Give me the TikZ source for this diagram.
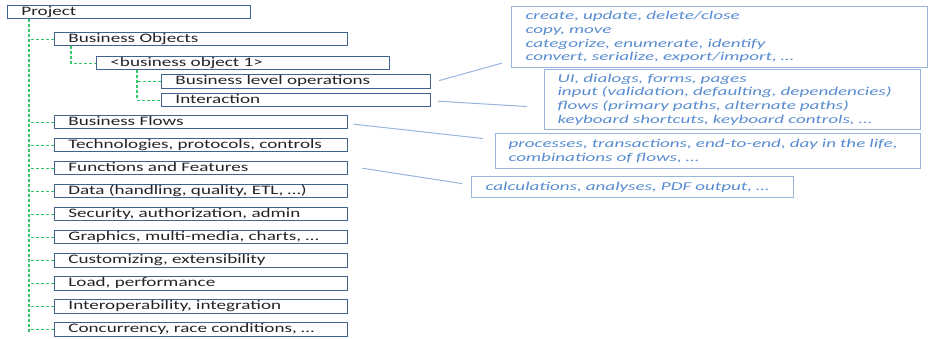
\documentclass[tikz,border=0pt]{standalone}
\usepackage{fontspec}
\setmainfont{Carlito}[FakeStretch=1.47]
\newfontfamily\notefont{Carlito}[FakeStretch=1.59]
\usetikzlibrary{calc}
\definecolor{treeline}{RGB}{50,200,105}
\definecolor{boxline}{RGB}{65,100,143}
\definecolor{notecol}{RGB}{88,140,208}
\definecolor{noteline}{RGB}{150,182,220}
\definecolor{txt}{RGB}{35,35,35}
\tikzset{
  tbox/.style={draw=boxline, line width=0.9pt, anchor=north west, inner xsep=14pt, inner ysep=0pt,
    minimum height=13.5pt, text height=9pt, text depth=3pt, align=left, text=txt,
    font=\fontsize{13}{14}\selectfont},
  nbox/.style={draw=noteline, line width=1.1pt, anchor=north west, inner xsep=14pt, inner ysep=0pt,
    align=left, text=notecol, font=\notefont\fontsize{12}{13.7}\itshape\selectfont},
  tree/.style={draw=treeline, line width=1.2pt, dash pattern=on 3pt off 2pt},
  nline/.style={draw=noteline, line width=1pt}
}
\begin{document}
\begin{tikzpicture}[x=1pt,y=-1pt]
\useasboundingbox (0,0) rectangle (929,339);
% tree boxes
\node[tbox, minimum width=243pt, text width=215pt] (proj) at (7,5) {Project};
\node[tbox, minimum width=293pt, text width=265pt] (bo) at (54,32) {Business Objects};
\node[tbox, minimum width=293pt, text width=265pt] (bo1) at (96,56) {<business object 1>};
\node[tbox, minimum width=269pt, text width=241pt] (blo) at (161,74.5) {Business level operations};
\node[tbox, minimum width=269pt, text width=241pt] (inter) at (161,93) {Interaction};
\node[tbox, minimum width=293pt, text width=265pt] (bf) at (54,115) {Business Flows};
\node[tbox, minimum width=293pt, text width=265pt] (tech) at (54,138) {Technologies, protocols, controls};
\node[tbox, minimum width=293pt, text width=265pt] (func) at (54,161) {Functions and Features};
\node[tbox, minimum width=293pt, text width=265pt] (data) at (54,184) {Data (handling, quality, ETL, …)};
\node[tbox, minimum width=293pt, text width=265pt] (sec) at (54,207) {Security, authorization, admin};
\node[tbox, minimum width=293pt, text width=265pt] (graph) at (54,230) {Graphics, multi-media, charts, …};
\node[tbox, minimum width=293pt, text width=265pt] (cust) at (54,253) {Customizing, extensibility};
\node[tbox, minimum width=293pt, text width=265pt] (load) at (54,276) {Load, performance};
\node[tbox, minimum width=293pt, text width=265pt] (interop) at (54,299) {Interoperability, integration};
\node[tbox, minimum width=293pt, text width=265pt] (conc) at (54,322) {Concurrency, race conditions, …};
% note boxes
\node[nbox, minimum width=416pt, minimum height=61pt, text width=388pt] (na) at (511,6)
  {create, update, delete/close\\copy, move\\categorize, enumerate, identify\\convert, serialize, export/import, …};
\node[nbox, minimum width=376pt, minimum height=60pt, text width=350pt, inner xsep=13pt] (nb) at (544,69)
  {UI, dialogs, forms, pages\\input (validation, defaulting, dependencies)\\flows (primary paths, alternate paths)\\keyboard shortcuts, keyboard controls, …};
\node[nbox, minimum width=425pt, minimum height=35pt, text width=399pt, inner xsep=13pt] (nc) at (495,133)
  {processes, transactions, end-to-end, day in the life,\\combinations of flows, …};
\node[nbox, minimum width=322pt, minimum height=21pt, text width=294pt] (nd) at (471,176)
  {calculations, analyses, PDF output, …};
% tree connectors
\coordinate (trunkend) at (29,333);
\draw[tree] ($(proj.south west)+(22,0)$) -- (trunkend);
\foreach \n in {bo,bf,tech,func,data,sec,graph,cust,load,interop,conc}
  \draw[tree] (\n.west) -- (\n.west -| trunkend);
\draw[tree] ($(bo.south west)+(17,0)$) |- (bo1.west);
\draw[tree] ($(bo1.south west)+(41,0)$) |- (inter.west);
\draw[tree] (blo.west) -- ++(-24,0);
% note connectors
\draw[nline] ($(blo.east)+(8,-1)$) -- ($(na.south west)+(-9,-5)$);
\draw[nline] ($(inter.east)+(7,1)$) -- ($(nb.west)+(-17,7)$);
\draw[nline] ($(bf.east)+(6,2)$) -- ($(nc.west)+(-12,-12.5)$);
\draw[nline] ($(func.east)+(14,0)$) -- ($(nd.west)+(-9,-3.5)$);
\end{tikzpicture}
\end{document}
